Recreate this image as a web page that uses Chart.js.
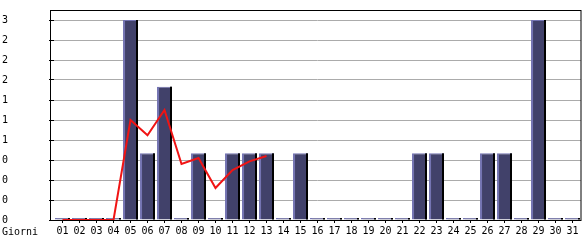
<!DOCTYPE html>
<html>
<head>
<meta charset="utf-8">
<script src="https://cdn.jsdelivr.net/npm/chart.js@4/dist/chart.umd.min.js"></script>
<style>
  html, body { margin: 0; padding: 0; background: #fff; }
  #wrap { width: 585px; height: 240px; }
</style>
</head>
<body>
<div id="wrap"><canvas id="grafico"></canvas></div>
<script>
// dati
var giorni = ['01','02','03','04','05','06','07','08','09','10','11','12','13','14','15','16',
              '17','18','19','20','21','22','23','24','25','26','27','28','29','30','31'];
var presenze = [0,0,0,0,3,1,2,0,1,0,1,1,1,0,1,0,0,0,0,0,0,1,1,0,0,1,1,0,3,0,0];
var media = [0,0,0,0,1.5,1.27,1.65,0.84,0.93,0.48,0.75,0.88,0.96,
             null,null,null,null,null,null,null,null,null,null,null,null,null,null,null,null,null,null];
var yMax = 3;
var yStep = 0.3;
var titoloX = 'Giorni';

var font = { family: 'DejaVu Sans Mono', size: 10 };

// ombra nera sul lato destro delle barre
var ombra = {
    id: 'ombra',
    afterDatasetDraw: function (chart, args) {
        if (args.index !== 0) return;
        var ctx = chart.ctx;
        ctx.save();
        ctx.fillStyle = '#000';
        args.meta.data.forEach(function (bar) {
            var p = bar.getProps(['x', 'y', 'base', 'width'], true);
            ctx.fillRect(Math.round(p.x + p.width / 2) - 2, p.y, 2, p.base - p.y);
        });
        ctx.restore();
    }
};

// cornice (10px sopra il massimo) e titolo asse x
var cornice = {
    id: 'cornice',
    afterDraw: function (chart) {
        var ctx = chart.ctx, a = chart.chartArea;
        ctx.save();
        ctx.strokeStyle = '#000';
        ctx.lineWidth = 1;
        ctx.strokeRect(50.5, a.top - 9.5, a.right - 50.5, a.bottom - a.top + 10);
        ctx.fillStyle = '#000';
        ctx.font = font.size + 'px ' + font.family;
        ctx.textBaseline = 'middle';
        ctx.textAlign = 'left';
        ctx.fillText(titoloX, 2, 232);
        ctx.restore();
    }
};

new Chart(document.getElementById('grafico'), {
    data: {
        labels: giorni,
        datasets: [{
            type: 'bar',
            data: presenze,
            order: 1,
            backgroundColor: '#41416a',
            borderColor: '#7474b2',
            borderWidth: { left: 2, top: 1, right: 0, bottom: 0 },
            borderSkipped: false,
            minBarLength: 2,
            barPercentage: 0.88,
            categoryPercentage: 1
        }, {
            type: 'line',
            data: media,
            order: 0,
            borderColor: '#f01414',
            borderWidth: 2,
            pointRadius: 0,
            tension: 0,
            spanGaps: false
        }]
    },
    options: {
        responsive: true,
        maintainAspectRatio: false,
        animation: false,
        layout: { padding: { left: 2, top: 20, right: 4, bottom: 0 } },
        plugins: { legend: { display: false }, tooltip: { enabled: false } },
        scales: {
            x: {
                offset: true,
                grid: { display: true, drawOnChartArea: false, offset: false, tickLength: 3, tickColor: '#000' },
                border: { display: false },
                ticks: { font: font, color: '#000', padding: 2, maxRotation: 0, autoSkip: false },
                afterFit: function (s) { s.height = 20; }
            },
            y: {
                min: 0,
                max: yMax,
                grid: { color: '#ababab', tickLength: 5, tickColor: '#000' },
                border: { display: false },
                ticks: {
                    stepSize: yStep,
                    font: font,
                    color: '#000',
                    crossAlign: 'far',
                    callback: function (v) {
                        return String(Math.floor(v + 1e-9));
                    }
                },
                afterFit: function (s) { s.width = 52; }
            }
        }
    },
    plugins: [ombra, cornice]
});
</script>
</body>
</html>
